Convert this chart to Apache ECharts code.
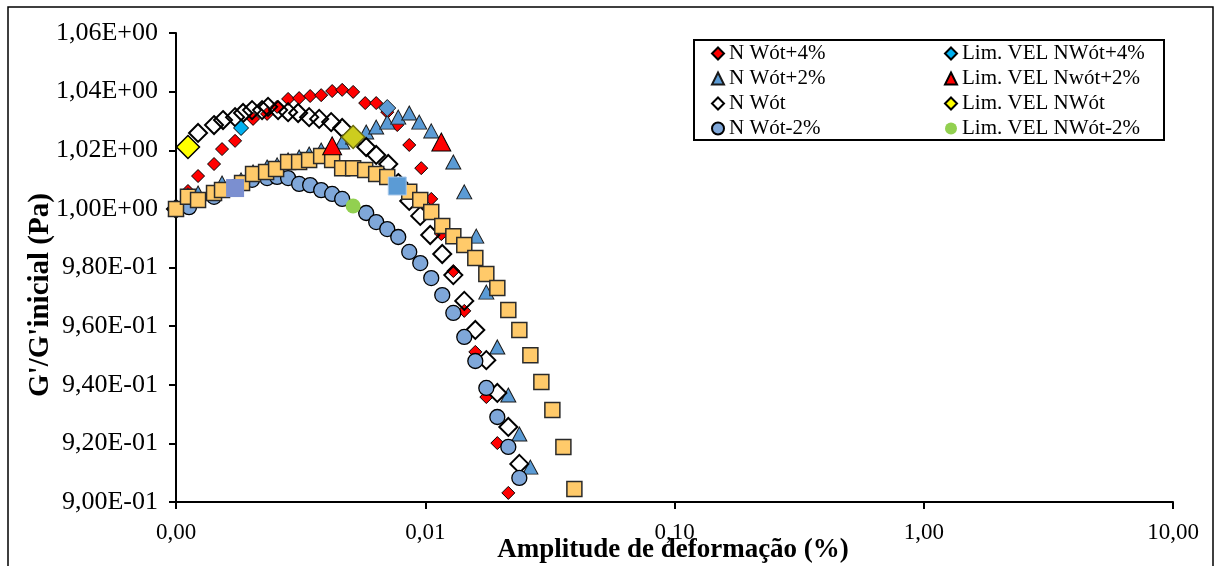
<!DOCTYPE html>
<html>
<head>
<meta charset="utf-8">
<script src="https://cdn.jsdelivr.net/npm/echarts@6/dist/echarts.min.js"></script>
<style>
html,body{margin:0;padding:0;background:#fff;}
#chart{width:1216px;height:566px;}
</style>
</head>
<body>
<div id="chart"></div>
<script>
// ---- Data (x: strain amplitude %, y: G'/G'inicial) ----
const xTickLabels = ['0,00', '0,01', '0,10', '1,00', '10,00'];

const xPlus4 = [0.001000,0.001117,0.001226,0.001421,0.001530,0.001726,0.002038,0.002320,0.002545,0.002817,0.003119,0.003453,0.003823,0.004232,0.004642,0.005137,0.005742,0.006356,0.007040,0.007721,0.008625,0.009637,0.01057,0.01160,0.01296,0.01434,0.01588,0.01758,0.01946,0.02154];
const yPlus4 = [1.0000,1.0061,1.0112,1.0153,1.0204,1.0232,1.0307,1.0324,1.0348,1.0375,1.0378,1.0385,1.0388,1.0402,1.0406,1.0399,1.0361,1.0361,1.0330,1.0286,1.0218,1.0139,1.0034,0.9914,0.9788,0.9652,0.9512,0.9358,0.9201,0.9031];

const xPlus2 = [0.001000,0.001117,0.001226,0.001530,0.001824,0.002038,0.002320,0.002545,0.002817,0.003119,0.003421,0.003823,0.004642,0.005137,0.005795,0.006356,0.007040,0.007792,0.008625,0.009461,0.01057,0.01296,0.01434,0.01602,0.01758,0.01946,0.02154,0.02385,0.02641];
const yPlus2 = [1.0000,1.0047,1.0054,1.0088,1.0099,1.0126,1.0143,1.0150,1.0167,1.0177,1.0187,1.0201,1.0228,1.0245,1.0262,1.0279,1.0296,1.0313,1.0327,1.0296,1.0266,1.0160,1.0058,0.9907,0.9716,0.9529,0.9365,0.9232,0.9119];

const xOt = [0.001000,0.001226,0.001421,0.001544,0.001726,0.001858,0.002019,0.002215,0.002341,0.002568,0.002817,0.003090,0.003421,0.003753,0.004193,0.004642,0.005795,0.006356,0.007105,0.007792,0.008625,0.009549,0.01047,0.01170,0.01296,0.01434,0.01588,0.01758,0.01946,0.02154,0.02385];
const yOt = [1.0000,1.0259,1.0286,1.0303,1.0313,1.0327,1.0337,1.0337,1.0348,1.0337,1.0330,1.0327,1.0313,1.0307,1.0296,1.0276,1.0211,1.0184,1.0153,1.0088,1.0027,0.9976,0.9911,0.9846,0.9774,0.9686,0.9587,0.9484,0.9372,0.9256,0.9130];

const xMinus2 = [0.001000,0.001128,0.001421,0.001726,0.002019,0.002320,0.002545,0.002817,0.003119,0.003453,0.003823,0.004232,0.004642,0.005795,0.006356,0.007040,0.007792,0.008625,0.009549,0.01057,0.01170,0.01296,0.01434,0.01588,0.01758,0.01946,0.02154,0.02385];
const yMinus2 = [1.0000,1.0006,1.0041,1.0075,1.0099,1.0105,1.0109,1.0105,1.0085,1.0081,1.0064,1.0051,1.0034,0.9986,0.9955,0.9931,0.9904,0.9853,0.9815,0.9764,0.9706,0.9645,0.9563,0.9481,0.9389,0.9290,0.9188,0.9082];

const xMinus4 = [0.001000,0.001117,0.001226,0.001421,0.001530,0.001841,0.002038,0.002299,0.002521,0.002817,0.003119,0.003421,0.003823,0.004232,0.004642,0.005137,0.005742,0.006356,0.007040,0.008625,0.009549,0.01057,0.01170,0.01296,0.01434,0.01588,0.01758,0.01946,0.02154,0.02385,0.02641,0.02923,0.03236,0.03583,0.03966];
const yMinus4 = [1.0000,1.0041,1.0030,1.0054,1.0064,1.0088,1.0119,1.0126,1.0136,1.0160,1.0160,1.0167,1.0180,1.0167,1.0139,1.0139,1.0133,1.0119,1.0109,1.0058,1.0030,0.9989,0.9942,0.9907,0.9877,0.9832,0.9778,0.9730,0.9655,0.9587,0.9501,0.9409,0.9314,0.9188,0.9044];

// limit (VEL) points
const xLimPlus4 = [0.001824];           const yLimPlus4 = [1.0276];
const xLimPlus2 = [0.004232, 0.01160];  const yLimPlus2 = [1.0215, 1.0228];
const xLimOt = [0.001117];              const yLimOt = [1.0211];
const xLimOt2 = [0.005137];             const yLimOt2 = [1.0245];
const xLimMinus2 = [0.005137];          const yLimMinus2 = [1.0010];
const xLimMinus4a = [0.001726];         const yLimMinus4a = [1.0071];
const xLimMinus4b = [0.007721];         const yLimMinus4b = [1.0078];
const xExtraDiamond = [0.007040];       const yExtraDiamond = [1.0344];

function zip(xs, ys) { return xs.map((x, i) => [x, ys[i]]); }

function sci(v) {
  let e = Math.floor(Math.log10(v) + 1e-9);
  let m = v / Math.pow(10, e);
  return m.toFixed(2).replace('.', ',') + 'E' + (e < 0 ? '-' : '+') + String(Math.abs(e)).padStart(2, '0');
}

const FONT = '"Liberation Serif", "Times New Roman", serif';

function sc(name, data, symbol, size, color, border, bw, z) {
  return {
    name: name, type: 'scatter', data: data, symbol: symbol, symbolSize: size,
    itemStyle: { color: color, borderColor: border, borderWidth: bw, opacity: 1 },
    z: z || 2, silent: true, animation: false
  };
}

const chart = echarts.init(document.getElementById('chart'), null, { renderer: 'canvas' });

const option = {
  animation: false,
  backgroundColor: '#fff',
  grid: { left: 176, right: 43, top: 33, bottom: 64, containLabel: false },
  xAxis: {
    type: 'log', logBase: 10, min: 0.001, max: 10,
    axisLine: { show: true, onZero: false, lineStyle: { color: '#000', width: 2 } },
    axisTick: { show: true, inside: false, length: 7, lineStyle: { color: '#000', width: 2 } },
    axisLabel: {
      margin: 19, color: '#000', fontFamily: FONT, fontSize: 23,
      formatter: function (v) {
        const k = Math.round(Math.log10(v)) + 3;
        return xTickLabels[k] !== undefined ? xTickLabels[k] : v.toFixed(2).replace('.', ',');
      }
    },
    splitLine: { show: false }, minorTick: { show: false }
  },
  yAxis: {
    type: 'value', min: 0.9, max: 1.06, interval: 0.02,
    axisLine: { show: true, onZero: false, lineStyle: { color: '#000', width: 2 } },
    axisTick: { show: true, inside: false, length: 7, lineStyle: { color: '#000', width: 2 } },
    axisLabel: { margin: 18, color: '#000', fontFamily: FONT, fontSize: 26, formatter: sci },
    splitLine: { show: false }
  },
  legend: [
    {
      orient: 'vertical', left: 711, top: 43, padding: 0, itemGap: 4,
      itemWidth: 12, itemHeight: 12, itemStyle: {},
      textStyle: { fontFamily: FONT, fontSize: 21, color: '#000', lineHeight: 21 },
      data: ['N Wót+4%', 'N Wót+2%', 'N Wót', 'N Wót-2%'], selectedMode: false
    },
    {
      orient: 'vertical', left: 944, top: 43, padding: 0, itemGap: 4,
      itemWidth: 12, itemHeight: 12,
      textStyle: { fontFamily: FONT, fontSize: 21, color: '#000', lineHeight: 21 },
      data: ['Lim. VEL NWót+4%', 'Lim. VEL Nwót+2%', 'Lim. VEL NWót', 'Lim. VEL NWót-2%'], selectedMode: false
    }
  ],
  graphic: [
    { type: 'rect', z: 0, shape: { x: 8, y: 7, width: 1205, height: 640 }, style: { fill: 'none', stroke: '#000', lineWidth: 1.5 } },
    { type: 'rect', z: 0, shape: { x: 694, y: 40, width: 470, height: 100 }, style: { fill: 'none', stroke: '#000', lineWidth: 2 } },
    { type: 'text', z: 5, x: 673, y: 550, style: { text: 'Amplitude de deformação (%)', font: 'bold 27px ' + FONT, fill: '#000', textAlign: 'center', textVerticalAlign: 'middle' } },
    { type: 'text', z: 5, x: 41, y: 295, rotation: Math.PI / 2, style: { text: "G'/G'inicial (Pa)", font: 'bold 29px ' + FONT, fill: '#000', textAlign: 'center', textVerticalAlign: 'middle' } }
  ],
  series: [
    sc('N Wót+4%', zip(xPlus4, yPlus4), 'diamond', 13, '#FF0000', '#000', 1, 2),
    sc('N Wót+2%', zip(xPlus2, yPlus2), 'triangle', [15, 14], '#5B9BD5', '#1a1a1a', 1, 2),
    sc('N Wót', zip(xOt, yOt), 'diamond', 18, 'rgba(255,255,255,0)', '#000', 2, 2),
    sc('N Wót-2%', zip(xMinus2, yMinus2), 'circle', 15, '#7FA7D9', '#000', 1.3, 2),
    sc('N Wót-4%', zip(xMinus4, yMinus4), 'rect', 15, '#FFCA6A', '#2a2a2a', 1.5, 2),
    sc('extra', zip(xExtraDiamond, yExtraDiamond), 'diamond', 17, '#5B9BD5', '#1a1a1a', 1, 3),
    sc('Lim. VEL NWót+4%', zip(xLimPlus4, yLimPlus4), 'diamond', 15, '#00B0F0', '#000', 1, 3),
    sc('Lim. VEL Nwót+2%', zip(xLimPlus2, yLimPlus2), 'triangle', [19, 18], '#FF0000', '#000', 1, 3),
    sc('Lim. VEL NWót', zip(xLimOt, yLimOt), 'diamond', 23, '#FFFF00', '#000', 1.5, 3),
    sc('Lim. VEL NWót b', zip(xLimOt2, yLimOt2), 'diamond', 23, '#CDCD1E', '#6E6E10', 1.5, 3),
    sc('Lim. VEL NWót-2%', zip(xLimMinus2, yLimMinus2), 'circle', 15, '#92D050', '#92D050', 0, 3),
    sc('Lim. VEL NWót-4% a', zip(xLimMinus4a, yLimMinus4a), 'rect', 18, '#7B8FD0', '#7B8FD0', 0, 3),
    sc('Lim. VEL NWót-4% b', zip(xLimMinus4b, yLimMinus4b), 'rect', 18, '#5B9BD5', '#A9C8EA', 1, 3)
  ]
};

chart.setOption(option);
</script>
</body>
</html>
